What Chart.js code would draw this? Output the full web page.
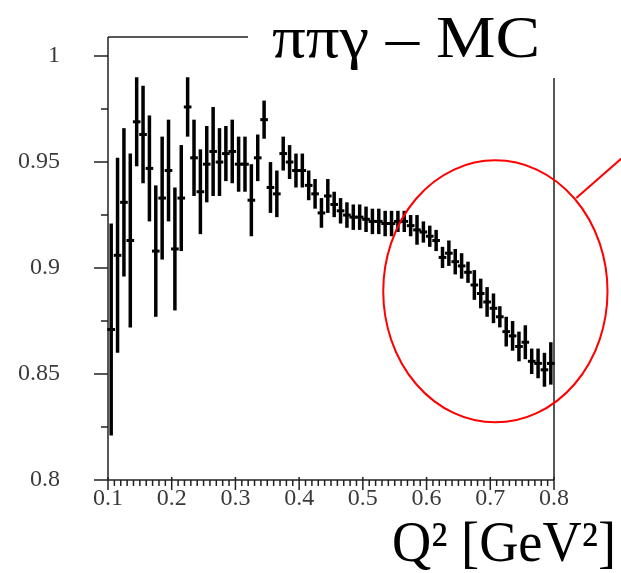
<!DOCTYPE html>
<html>
<head>
<meta charset="utf-8">
<script src="https://cdn.jsdelivr.net/npm/chart.js@4/dist/chart.umd.min.js"></script>
<style>
html, body { margin: 0; padding: 0; background: #fff; }
#wrap { width: 621px; height: 573px; }
</style>
</head>
<body>
<div id="wrap"><canvas id="ratioChart" width="621" height="573"></canvas></div>
<script>
// bin centres in Q^2 and the MC ratio
var q2 = [0.105, 0.115, 0.125, 0.135, 0.145, 0.155, 0.165, 0.175, 0.185, 0.195,
          0.205, 0.215, 0.225, 0.235, 0.245, 0.255, 0.265, 0.275, 0.285, 0.295,
          0.305, 0.315, 0.325, 0.335, 0.345, 0.355, 0.365, 0.375, 0.385, 0.395,
          0.405, 0.415, 0.425, 0.435, 0.445, 0.455, 0.465, 0.475, 0.485, 0.495,
          0.505, 0.515, 0.525, 0.535, 0.545, 0.555, 0.565, 0.575, 0.585, 0.595,
          0.605, 0.615, 0.625, 0.635, 0.645, 0.655, 0.665, 0.675, 0.685, 0.695,
          0.705, 0.715, 0.725, 0.735, 0.745, 0.755, 0.765, 0.775, 0.785, 0.795];
var ratio = [0.871, 0.906, 0.931, 0.913, 0.969, 0.963, 0.947, 0.908, 0.933, 0.946,
             0.909, 0.933, 0.976, 0.952, 0.936, 0.949, 0.955, 0.950, 0.954, 0.955,
             0.949, 0.949, 0.932, 0.952, 0.970, 0.938, 0.935, 0.954, 0.950, 0.946,
             0.946, 0.939, 0.935, 0.926, 0.934, 0.930, 0.927, 0.925, 0.924, 0.924,
             0.923, 0.922, 0.922, 0.921, 0.921, 0.922, 0.922, 0.920, 0.918, 0.917,
             0.915, 0.913, 0.905, 0.907, 0.903, 0.901, 0.898, 0.892, 0.888, 0.884,
             0.881, 0.877, 0.870, 0.868, 0.863, 0.865, 0.856, 0.855, 0.852, 0.855];
var ratioErr = [0.050, 0.046, 0.035, 0.041, 0.021, 0.023, 0.025, 0.031, 0.029, 0.024,
                0.029, 0.025, 0.014, 0.018, 0.020, 0.018, 0.021, 0.016, 0.013, 0.015,
                0.013, 0.013, 0.017, 0.011, 0.009, 0.012, 0.011, 0.008, 0.008, 0.008,
                0.008, 0.007, 0.007, 0.007, 0.008, 0.006, 0.006, 0.006, 0.006, 0.006,
                0.006, 0.006, 0.006, 0.006, 0.006, 0.005, 0.005, 0.005, 0.007, 0.005,
                0.005, 0.005, 0.005, 0.006, 0.006, 0.006, 0.005, 0.007, 0.007, 0.007,
                0.007, 0.005, 0.007, 0.007, 0.007, 0.008, 0.006, 0.007, 0.008, 0.010];
var xTicks = [0.1, 0.2, 0.3, 0.4, 0.5, 0.6, 0.7, 0.8];
var yTicks = [0.8, 0.85, 0.9, 0.95, 1];
var yMinorTicks = [0.825, 0.875, 0.925, 0.975];

var titleText = 'ππγ – MC';
var xTitleText = 'Q² [GeV²]';
var binHalf = 0.006;

var serif = "'Liberation Serif', 'Times New Roman', serif";

var points = q2.map(function(x, i) {
    return { x: x, y: ratio[i], err: ratioErr[i] };
});

function tickLabel(v) {
    return String(Math.round(v * 100) / 100);
}

// draw text stretched to a given width, left or right anchored
function fitText(c, text, x, y, size, width, align) {
    c.font = size + 'px ' + serif;
    var w = c.measureText(text).width;
    c.save();
    c.translate(align === 'right' ? x - width : x, y);
    c.scale(width / w, 1);
    c.textAlign = 'left';
    c.fillText(text, 0, 0);
    c.restore();
}

var frame = {
    id: 'frame',
    beforeDatasetsDraw: function(chart) {
        var c = chart.ctx, a = chart.chartArea;
        var xs = chart.scales.x, ys = chart.scales.y;
        c.save();
        c.strokeStyle = '#222';
        c.lineWidth = 1.5;
        c.beginPath();
        c.moveTo(a.left, a.top); c.lineTo(a.left, a.bottom); c.lineTo(a.right, a.bottom);
        c.moveTo(a.left, a.top); c.lineTo(a.right, a.top); c.lineTo(a.right, a.bottom);
        c.stroke();
        c.beginPath();
        yTicks.forEach(function(v) {
            var y = ys.getPixelForValue(v);
            c.moveTo(a.left - 14, y); c.lineTo(a.left, y);
        });
        yMinorTicks.forEach(function(v) {
            var y = ys.getPixelForValue(v);
            c.moveTo(a.left - 7, y); c.lineTo(a.left, y);
        });
        xTicks.forEach(function(v) {
            var x = xs.getPixelForValue(v);
            c.moveTo(x, a.bottom - 3); c.lineTo(x, a.bottom + 10);
        });
        for (var k = 1; k < 70; k++) {
            if (k % 10 === 0) continue;
            var mx = xs.getPixelForValue(0.1 + k / 100);
            c.moveTo(mx, a.bottom); c.lineTo(mx, a.bottom + 6);
        }
        c.stroke();
        c.restore();
    }
};

var errorBars = {
    id: 'errorBars',
    afterDatasetsDraw: function(chart) {
        var c = chart.ctx;
        var xs = chart.scales.x, ys = chart.scales.y;
        c.save();
        c.strokeStyle = '#000';
        chart.data.datasets[0].data.forEach(function(p) {
            var px = xs.getPixelForValue(p.x);
            var py = ys.getPixelForValue(p.y);
            c.lineWidth = 3.5;
            c.beginPath();
            c.moveTo(px, ys.getPixelForValue(p.y + p.err));
            c.lineTo(px, ys.getPixelForValue(p.y - p.err));
            c.stroke();
            c.lineWidth = 3;
            c.beginPath();
            c.moveTo(xs.getPixelForValue(p.x - binHalf), py);
            c.lineTo(xs.getPixelForValue(p.x + binHalf), py);
            c.stroke();
        });
        c.restore();
    }
};

// red circle round the high-Q2 fall-off, and its pointer line
var markup = {
    id: 'markup',
    afterDraw: function(chart) {
        var c = chart.ctx;
        var xs = chart.scales.x, ys = chart.scales.y;
        var cx = xs.getPixelForValue(0.708), cy = ys.getPixelForValue(0.889);
        var rx = xs.getPixelForValue(0.708 + 0.176) - cx;
        var ry = cy - ys.getPixelForValue(0.889 + 0.0618);
        c.save();
        c.strokeStyle = '#f00';
        c.lineWidth = 2;
        c.beginPath();
        c.ellipse(cx, cy, rx, ry, 0, 0, Math.PI * 2);
        c.stroke();
        c.beginPath();
        c.moveTo(xs.getPixelForValue(0.835), ys.getPixelForValue(0.933));
        c.lineTo(xs.getPixelForValue(0.907), ys.getPixelForValue(0.952));
        c.stroke();

        c.fillStyle = '#fff';
        c.fillRect(248, 0, 373, 78);
        c.fillStyle = '#000';
        c.textBaseline = 'alphabetic';
        fitText(c, titleText, 272, 57, 59, 268, 'left');
        fitText(c, xTitleText, 616, 561, 58, 224, 'right');
        c.restore();
    }
};

new Chart(document.getElementById('ratioChart').getContext('2d'), {
    type: 'scatter',
    data: {
        datasets: [{
            label: 'ππγ MC',
            data: points,
            pointRadius: 0,
            showLine: false
        }]
    },
    options: {
        responsive: false,
        animation: false,
        layout: { padding: { top: 37, right: 67, bottom: 0, left: 0 } },
        plugins: {
            legend: { display: false },
            tooltip: { enabled: false }
        },
        scales: {
            x: {
                type: 'linear',
                min: 0.1,
                max: 0.8,
                afterBuildTicks: function(s) { s.ticks = xTicks.map(function(v) { return { value: v }; }); },
                afterFit: function(s) { s.height = 93; s.paddingLeft = 0; s.paddingRight = 0; },
                grid: { display: false, drawTicks: false },
                border: { display: false },
                ticks: {
                    padding: 4,
                    maxRotation: 0,
                    autoSkip: false,
                    color: '#3a3a3a',
                    font: { family: serif, size: 24 },
                    callback: tickLabel
                }
            },
            y: {
                type: 'linear',
                min: 0.8,
                max: 1.009,
                afterBuildTicks: function(s) { s.ticks = yTicks.map(function(v) { return { value: v }; }); },
                afterFit: function(s) { s.width = 108; s.paddingTop = 0; s.paddingBottom = 0; },
                grid: { display: false, drawTicks: false },
                border: { display: false },
                ticks: {
                    padding: 48,
                    autoSkip: false,
                    color: '#3a3a3a',
                    font: { family: serif, size: 24 },
                    callback: tickLabel
                }
            }
        }
    },
    plugins: [frame, errorBars, markup]
});
</script>
</body>
</html>
